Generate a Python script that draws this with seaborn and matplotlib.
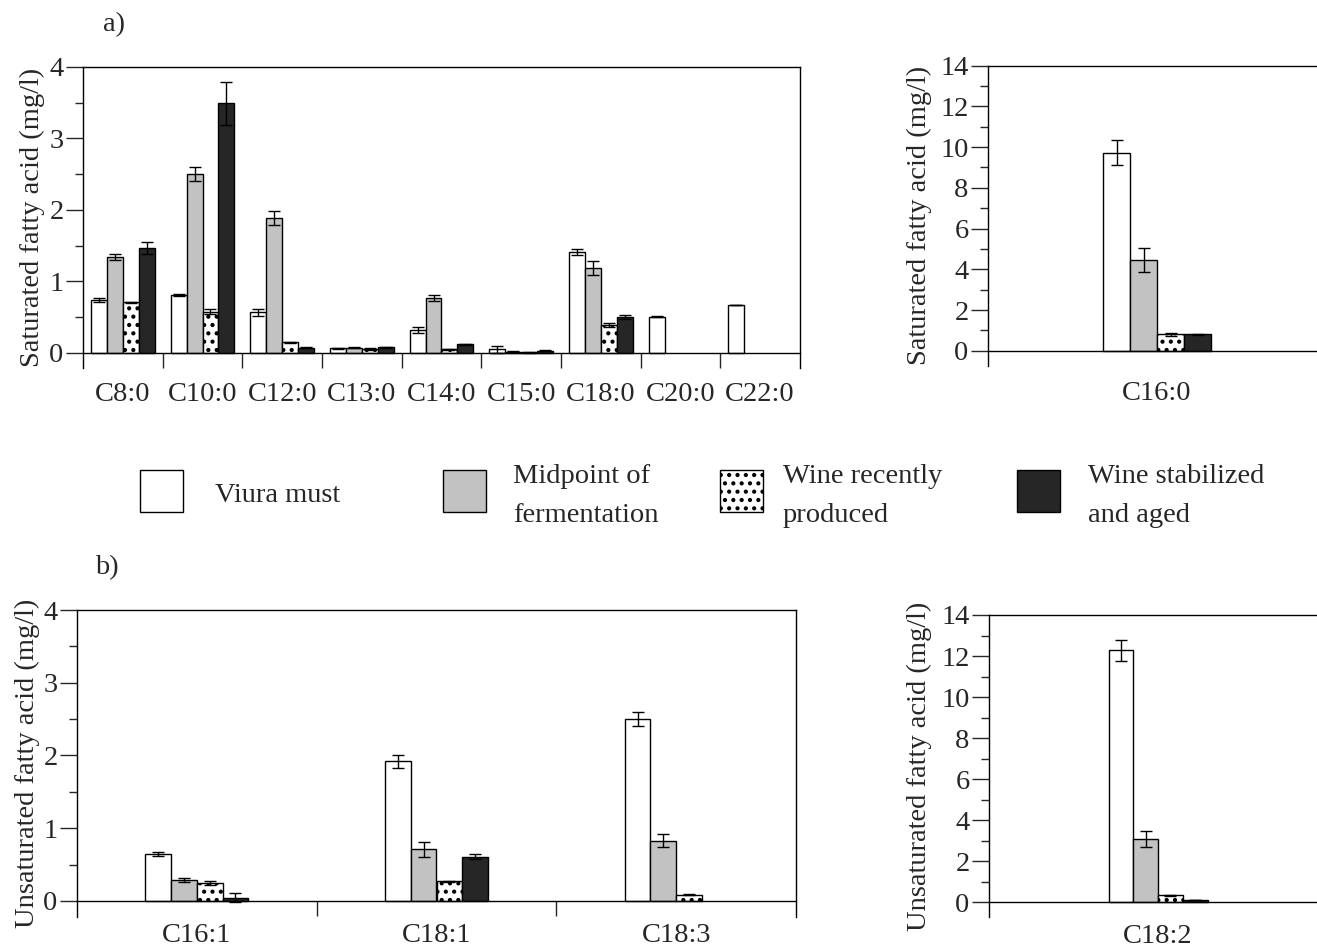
import numpy as np
import pandas as pd
import matplotlib
matplotlib.use("Agg")
import matplotlib.pyplot as plt
import seaborn as sns
from matplotlib.patches import Rectangle

# ---------------- data ----------------
stages = ["Viura must", "Midpoint of fermentation", "Wine recently produced", "Wine stabilized and aged"]
legend_labels = ["Viura must", "Midpoint of\nfermentation", "Wine recently\nproduced", "Wine stabilized\nand aged"]

sat_acids = ["C8:0", "C10:0", "C12:0", "C13:0", "C14:0", "C15:0", "C18:0", "C20:0", "C22:0"]
sat_must = [0.74, 0.81, 0.57, 0.065, 0.32, 0.05, 1.41, 0.51, 0.67]
sat_must_err = [0.03, 0.01, 0.05, 0.01, 0.04, 0.05, 0.04, 0.01, 0.005]
sat_mid = [1.34, 2.50, 1.89, 0.075, 0.77, 0.02, 1.19, None, None]
sat_mid_err = [0.04, 0.10, 0.10, 0.01, 0.04, 0.005, 0.10, None, None]
sat_new = [0.71, 0.58, 0.15, 0.055, 0.05, 0.01, 0.39, None, None]
sat_new_err = [0.01, 0.04, 0.01, 0.01, 0.01, 0.005, 0.03, None, None]
sat_aged = [1.47, 3.49, 0.075, 0.08, 0.12, 0.03, 0.50, None, None]
sat_aged_err = [0.08, 0.30, 0.01, 0.01, 0.01, 0.005, 0.03, None, None]

c160_acids = ["C16:0"]
c160_vals = [9.73, 4.47, 0.80, 0.80]
c160_errs = [0.62, 0.60, 0.07, 0.03]

unsat_acids = ["C16:1", "C18:1", "C18:3"]
unsat_must = [0.65, 1.92, 2.50]
unsat_must_err = [0.03, 0.09, 0.10]
unsat_mid = [0.29, 0.71, 0.83]
unsat_mid_err = [0.03, 0.10, 0.09]
unsat_new = [0.25, 0.27, 0.087]
unsat_new_err = [0.03, 0.01, 0.005]
unsat_aged = [0.045, 0.61, None]
unsat_aged_err = [0.06, 0.03, None]

c182_acids = ["C18:2"]
c182_vals = [12.28, 3.06, 0.33, 0.10]
c182_errs = [0.50, 0.40, 0.03, 0.02]

# ---------------- style ----------------
fills = {stages[0]: "#ffffff", stages[1]: "#c2c2c2", stages[2]: "#ffffff", stages[3]: "#262626"}
hatches = {stages[0]: "", stages[1]: "", stages[2]: "..", stages[3]: ""}

sns.set_style("ticks")
plt.rcParams["font.family"] = ["Liberation Serif", "DejaVu Serif"]
plt.rcParams["hatch.linewidth"] = 1.8
FS = 20.5

W, H = 1317, 951
fig = plt.figure(figsize=(W / 100, H / 100), dpi=100)


def make_df(acids, series, errs):
    rows = []
    for stage, vals, es in zip(stages, series, errs):
        for a, v, e in zip(acids, vals, es):
            if v is not None:
                rows.append(dict(acid=a, stage=stage, value=v, err=e))
    return pd.DataFrame(rows)


def panel(rect, acids, series, errs, width, xlim, ylim, major, minor, ylabel, label_x, separators, xpad):
    ax = fig.add_axes(rect)
    df = make_df(acids, series, errs)
    sns.barplot(data=df, x="acid", y="value", hue="stage", order=acids, hue_order=stages,
                palette=fills, width=width, errorbar=None, legend=False, saturation=1,
                edgecolor="black", linewidth=1.0, ax=ax)
    slot = width / 4
    for p in list(ax.patches):
        cx = p.get_x() + p.get_width() / 2
        ci = int(round(cx))
        hi = int(round((cx - ci) / slot + 1.5))
        stage = stages[hi]
        p.set_hatch(hatches[stage])
        row = df[(df.acid == acids[ci]) & (df.stage == stage)]
        if len(row):
            ax.errorbar(cx, row.value.iloc[0], yerr=row.err.iloc[0], fmt="none", ecolor="black",
                        elinewidth=1.0, capsize=4, capthick=1.0, zorder=5)
    ax.set_xlim(*xlim)
    ax.set_ylim(*ylim)
    ax.spines["bottom"].set_position(("data", 0))
    for s in ax.spines.values():
        s.set_linewidth(1.0)
        s.set_color("black")
    if not separators:
        ax.spines["right"].set_visible(False)
    ax.set_yticks(np.arange(0, ylim[1] + 1e-9, major))
    ax.set_yticks(np.arange(0, ylim[1] + 1e-9, minor), minor=True)
    ax.tick_params(axis="y", which="major", length=12, width=1, direction="out", labelsize=FS, pad=2)
    ax.tick_params(axis="y", which="minor", length=5.5, width=1, direction="out")
    if separators:
        ax.set_xticks([k + 0.5 for k in range(len(acids) - 1)])
    else:
        ax.set_xticks([])
    ax.set_xticks(range(len(acids)), minor=True)
    ax.set_xticklabels(acids, minor=True)
    ax.tick_params(axis="x", which="major", length=11, width=1, direction="out", labelbottom=False)
    ax.tick_params(axis="x", which="minor", length=0, labelsize=FS, pad=xpad)
    ax.set_xlabel("")
    ax.set_ylabel(ylabel, fontsize=FS)
    ax.yaxis.set_label_coords(label_x, 0.5)
    return ax


def fx(px):
    return px / W


def fy(py):
    return 1 - py / H


# panel a, left
panel([fx(83), fy(368), fx(717), (368 - 67) / H], sat_acids,
      [sat_must, sat_mid, sat_new, sat_aged], [sat_must_err, sat_mid_err, sat_new_err, sat_aged_err],
      0.8, (-0.5, 8.5), (-0.21, 4), 1, 0.5, "Saturated fatty acid (mg/l)", -0.053, True, 21)
# panel a, right
panel([fx(988), fy(366), fx(329), (366 - 65.7) / H], c160_acids,
      [[v] for v in c160_vals], [[e] for e in c160_errs],
      0.8, (-1.252, 1.185), (-0.75, 14), 2, 1, "Saturated fatty acid (mg/l)", -0.17, False, 22)
# panel b, left
panel([fx(77), fy(917), fx(719), (917 - 610) / H], unsat_acids,
      [unsat_must, unsat_mid, unsat_new, unsat_aged], [unsat_must_err, unsat_mid_err, unsat_new_err, unsat_aged_err],
      0.43, (-0.5, 2.5), (-0.22, 4), 1, 0.5, "Unsaturated fatty acid (mg/l)", -0.052, True, 16)
# panel b, right
panel([fx(989), fy(917), fx(328), (917 - 615) / H], c182_acids,
      [[v] for v in c182_vals], [[e] for e in c182_errs],
      0.8, (-1.366, 1.285), (-0.73, 14), 2, 1, "Unsaturated fatty acid (mg/l)", -0.174, False, 16)

# panel letters
fig.text(fx(103), fy(25), "a)", fontsize=FS, va="center", ha="left")
fig.text(fx(95), fy(568), "b)", fontsize=FS, va="center", ha="left")

# legend
box_left = [140, 443, 720, 1017]
text_left = [215, 513, 783, 1088]
for stage, lab, bl, tl in zip(stages, legend_labels, box_left, text_left):
    r = Rectangle((fx(bl), fy(512)), fx(43), 42 / H, transform=fig.transFigure,
                  facecolor=fills[stage], edgecolor="black", linewidth=1.0, hatch=hatches[stage])
    fig.add_artist(r)
    fig.text(fx(tl), fy(496), lab, fontsize=FS, va="center", ha="left", linespacing=1.75)

fig.savefig("out.png", dpi=100)
